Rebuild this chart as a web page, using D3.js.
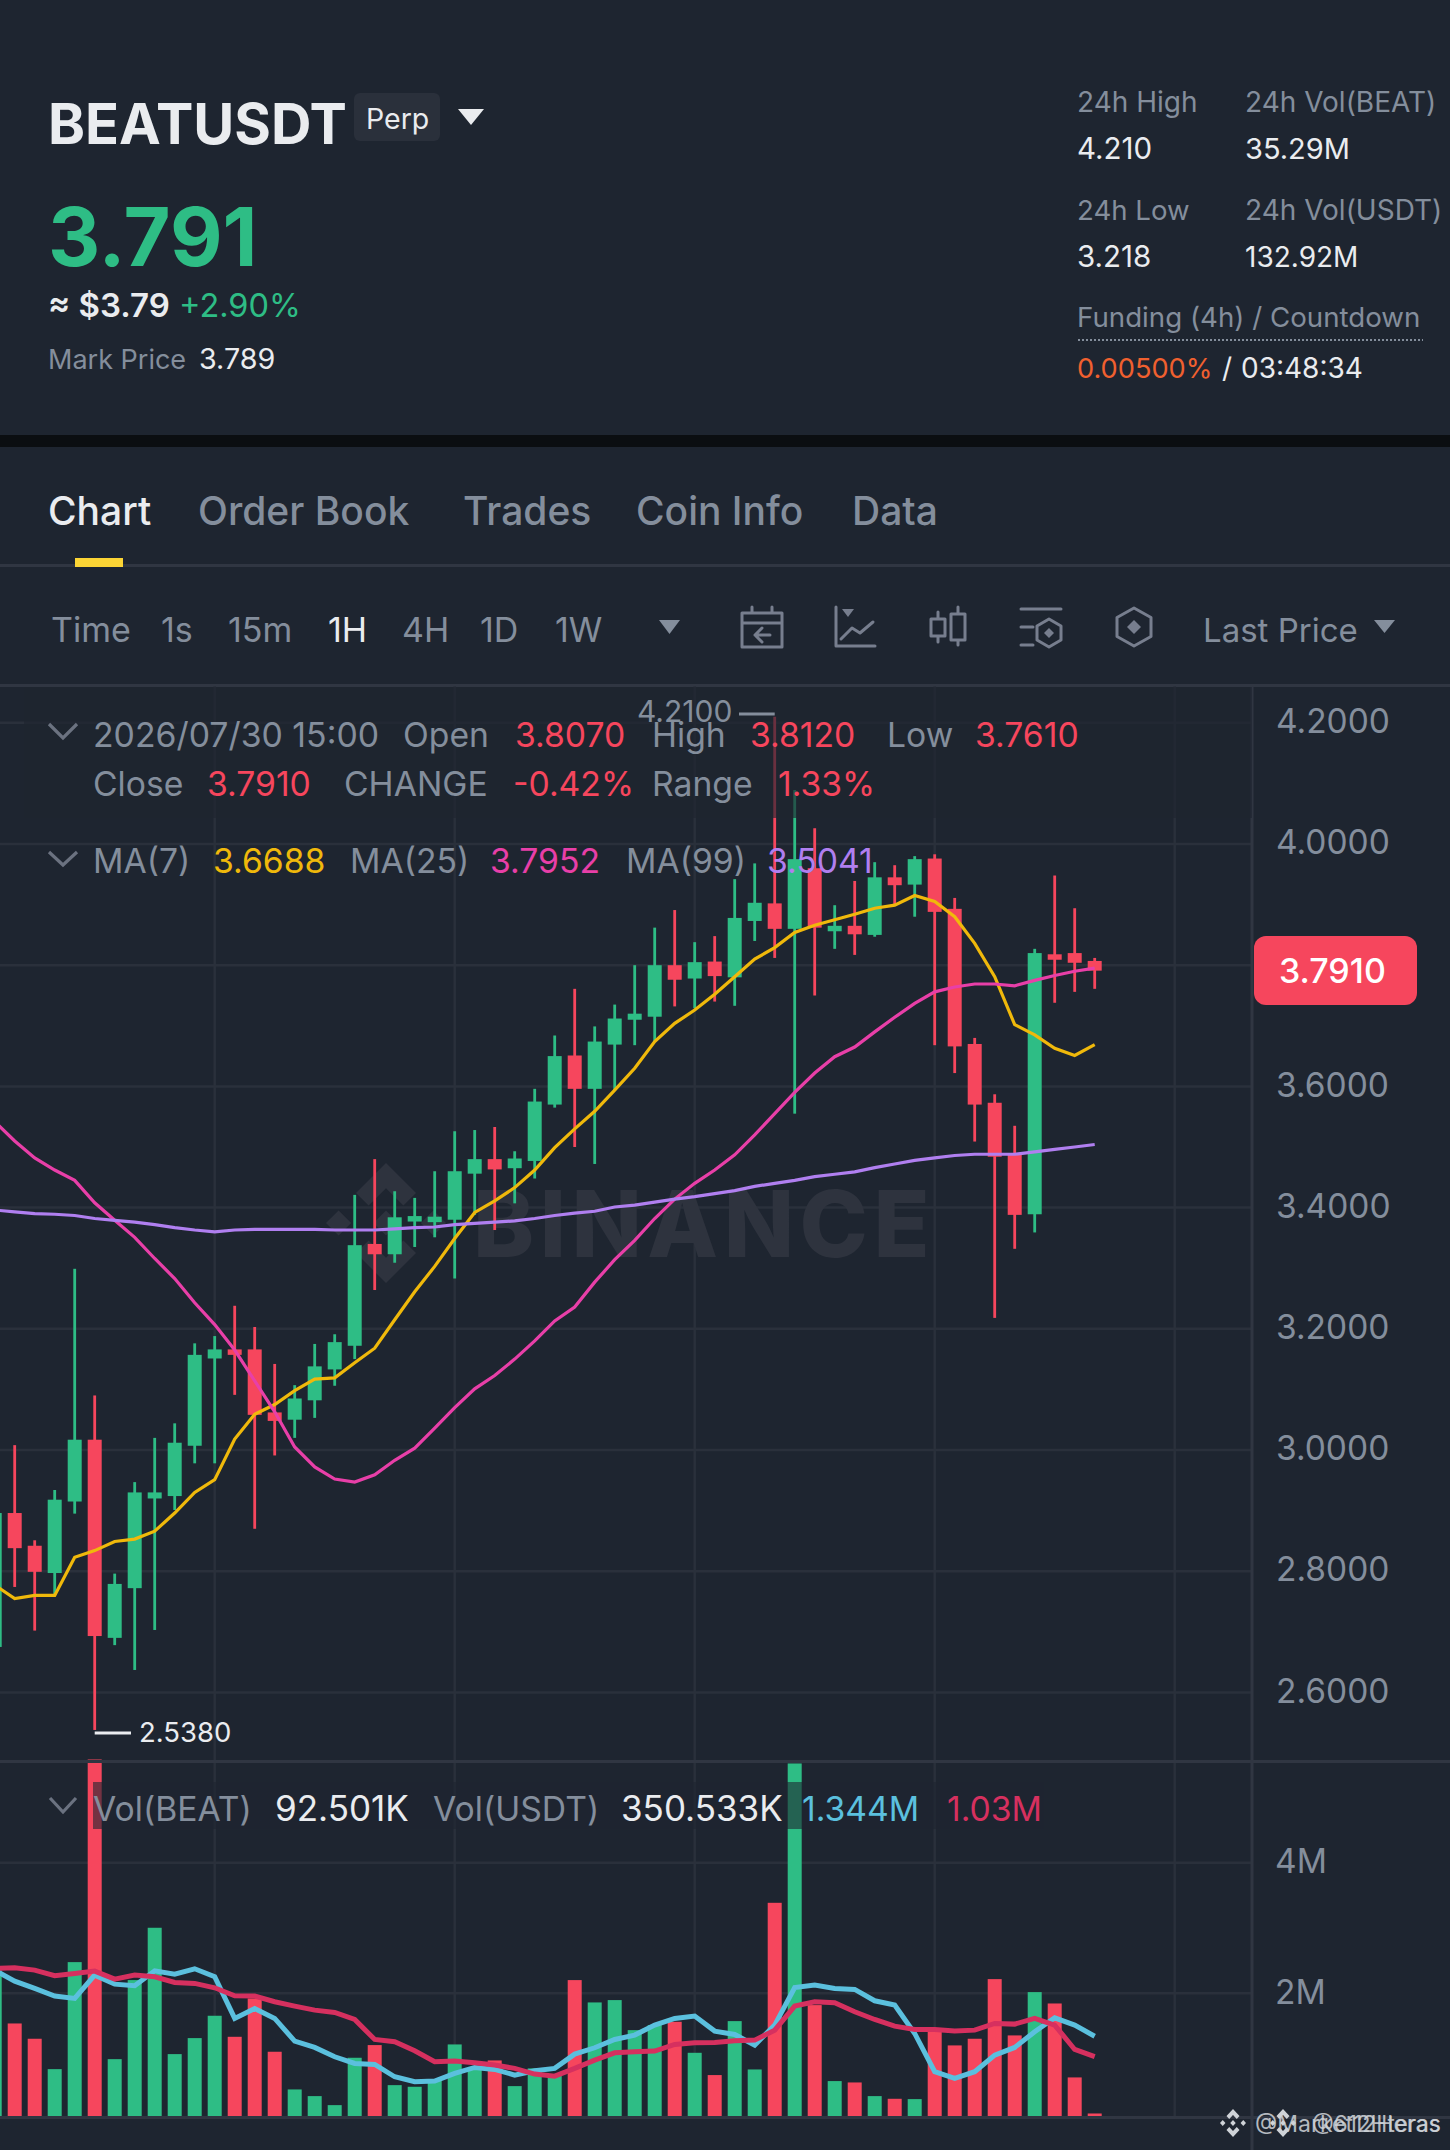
<!DOCTYPE html>
<html>
<head>
<meta charset="utf-8">
<title>BEATUSDT Perp</title>
<script src="https://cdnjs.cloudflare.com/ajax/libs/d3/7.8.5/d3.min.js"></script>
<style>
  html, body { margin: 0; padding: 0; background: #1e2530; }
  svg { display: block; }
  text { font-family: Inter, "Noto Sans", sans-serif; }
</style>
</head>
<body>
<div id="chart"></div>
<script>
// price candles, one entry per hour, left to right
const openPrices = [2.675,2.896,2.842,2.797,2.915,3.017,2.690,2.772,2.920,2.924,3.007,3.151,3.166,3.166,3.062,3.050,3.082,3.133,3.172,3.340,3.323,3.377,3.376,3.380,3.456,3.480,3.465,3.477,3.570,3.651,3.596,3.669,3.710,3.715,3.800,3.778,3.806,3.780,3.873,3.902,3.860,3.960,3.856,3.865,3.850,3.945,3.933,3.976,3.893,3.670,3.573,3.488,3.389,3.818,3.820,3.807];
const highPrices = [2.910,3.008,2.851,2.934,3.299,3.090,2.796,2.947,3.020,3.044,3.176,3.188,3.238,3.203,3.142,3.107,3.175,3.191,3.421,3.480,3.427,3.416,3.460,3.526,3.528,3.533,3.493,3.596,3.684,3.761,3.699,3.735,3.800,3.862,3.891,3.838,3.848,3.942,3.968,4.210,4.089,4.026,3.899,3.939,3.970,3.965,3.980,3.983,3.911,3.680,3.587,3.535,3.827,3.948,3.894,3.812];
const lowPrices = [2.660,2.774,2.702,2.760,2.895,2.538,2.678,2.637,2.703,2.901,2.978,2.978,3.091,2.870,2.991,3.020,3.053,3.106,3.150,3.264,3.309,3.335,3.351,3.283,3.388,3.363,3.407,3.448,3.565,3.500,3.472,3.594,3.668,3.674,3.732,3.729,3.740,3.733,3.840,3.812,3.555,3.750,3.827,3.817,3.847,3.901,3.880,3.668,3.622,3.509,3.218,3.332,3.359,3.738,3.756,3.761];
const closePrices = [2.896,2.838,2.799,2.918,3.017,2.693,2.779,2.930,2.930,3.012,3.157,3.166,3.157,3.058,3.048,3.085,3.138,3.178,3.338,3.323,3.384,3.386,3.385,3.460,3.480,3.463,3.481,3.575,3.650,3.596,3.674,3.712,3.720,3.800,3.776,3.805,3.782,3.878,3.903,3.860,3.975,3.862,3.865,3.851,3.945,3.932,3.975,3.888,3.666,3.570,3.484,3.388,3.820,3.809,3.804,3.791];

// moving averages over the candles
const ma7 = [2.777,2.755,2.760,2.760,2.823,2.834,2.849,2.853,2.866,2.896,2.930,2.951,3.018,3.059,3.075,3.098,3.117,3.119,3.144,3.168,3.215,3.261,3.303,3.349,3.392,3.411,3.433,3.462,3.499,3.530,3.559,3.594,3.630,3.674,3.704,3.726,3.752,3.781,3.810,3.829,3.854,3.866,3.875,3.884,3.894,3.899,3.915,3.905,3.880,3.836,3.781,3.702,3.685,3.663,3.651,3.6688];
const ma25 = [3.542,3.510,3.482,3.462,3.445,3.408,3.379,3.351,3.316,3.283,3.243,3.207,3.165,3.114,3.063,3.005,2.972,2.952,2.947,2.959,2.983,3.003,3.036,3.070,3.101,3.123,3.150,3.180,3.213,3.236,3.277,3.314,3.346,3.382,3.414,3.440,3.462,3.487,3.520,3.555,3.590,3.622,3.649,3.665,3.690,3.714,3.737,3.756,3.764,3.769,3.769,3.766,3.775,3.783,3.790,3.7952];
const ma99 = [3.396,3.393,3.390,3.389,3.387,3.382,3.379,3.376,3.372,3.367,3.363,3.360,3.363,3.364,3.364,3.364,3.364,3.363,3.363,3.363,3.365,3.367,3.368,3.372,3.374,3.376,3.378,3.382,3.387,3.391,3.394,3.401,3.404,3.409,3.414,3.418,3.423,3.428,3.435,3.440,3.445,3.451,3.455,3.459,3.466,3.472,3.478,3.482,3.486,3.488,3.488,3.488,3.492,3.496,3.500,3.5041];

// volume in millions, plus its two averages
const volumes = [2.355,1.539,1.305,0.840,2.478,5.580,0.993,2.203,3.004,1.070,1.315,1.657,1.335,1.922,1.106,0.529,0.427,0.289,1.014,1.208,0.595,0.570,0.672,1.218,0.851,0.973,0.580,0.851,0.750,2.203,1.861,1.897,1.437,1.514,1.565,1.090,0.749,1.575,0.835,3.386,5.519,1.820,0.657,0.636,0.427,0.386,0.381,1.437,1.203,1.305,2.218,1.356,2.019,1.845,0.713,0.161];
const volMaFast = [2.355,2.187,2.075,1.958,1.922,2.279,2.141,2.116,2.345,2.294,2.376,2.254,1.616,1.769,1.616,1.269,1.172,1.029,0.927,0.912,0.723,0.647,0.657,0.774,0.866,0.835,0.749,0.815,0.851,1.070,1.167,1.294,1.361,1.514,1.616,1.652,1.422,1.371,1.208,1.514,2.090,2.126,2.075,2.060,1.886,1.820,1.386,0.800,0.697,0.800,1.055,1.172,1.412,1.626,1.514,1.344];
const volMaSlow = [2.381,2.391,2.356,2.269,2.305,2.340,2.218,2.279,2.254,2.167,2.152,2.085,1.963,1.958,1.871,1.805,1.743,1.708,1.600,1.294,1.259,1.121,0.953,0.963,0.937,0.902,0.851,0.764,0.733,0.851,0.978,1.090,1.106,1.116,1.218,1.243,1.248,1.274,1.284,1.437,1.805,1.871,1.855,1.718,1.600,1.498,1.447,1.447,1.422,1.437,1.539,1.529,1.616,1.514,1.141,1.030];

const priceGridTicks = [2.6,2.8,3.0,3.2,3.4,3.6,3.8,4.0,4.2];
const priceLabelTicks = [2.6,2.8,3.0,3.2,3.4,3.6,4.0,4.2];
const volTicks = [2,4];
const timeGridIndex = [11,23,35,47,59];

const tabs = ['Chart','Order Book','Trades','Coin Info','Data'];
const intervals = ['Time','1s','15m','1H','4H','1D','1W'];

const GREEN = '#2ebd85', RED = '#f6465d', BG = '#1e2530', GREY = '#848e9c', WHITE = '#eaecef';
const GRID = '#2a303b', RULE = '#303642';
const W = 1450, H = 2150, axisX = 1252;
const indexes = d3.range(closePrices.length);

const svg = d3.select('#chart').append('svg').attr('width', W).attr('height', H);
svg.append('rect').attr('width', W).attr('height', H).attr('fill', BG);

function label(x, y, str, size, color, weight) {
    return svg.append('text').attr('x', x).attr('y', y)
        .attr('font-size', size).attr('fill', color)
        .attr('font-weight', weight || 400).text(str);
}
function tri(x0, x1, y0, y1, color) {
    svg.append('path').attr('d', `M${x0},${y0}L${x1},${y0}L${(x0 + x1) / 2},${y1}Z`).attr('fill', color);
}
function chevron(x0, x1, y0, y1) {
    svg.append('path').attr('d', `M${x0},${y0}L${(x0 + x1) / 2},${y1}L${x1},${y0}`)
        .attr('fill', 'none').attr('stroke', '#6b7280').attr('stroke-width', 3.2);
}

// ---- header ----
label(48, 144, 'BEATUSDT', 56, WHITE, 700);
svg.append('rect').attr('x', 354).attr('y', 93).attr('width', 86).attr('height', 48).attr('rx', 6).attr('fill', '#2a303b');
label(366, 129, 'Perp', 28.5, WHITE);
tri(458, 484, 109, 125, WHITE);
label(48, 266, '3.791', 81, GREEN, 700);
label(48, 317, '≈ $3.79', 33, WHITE, 600);
label(179, 317, '+2.90%', 32.5, GREEN);
label(48, 369, 'Mark Price', 27, GREY);
label(199, 369, '3.789', 28.7, WHITE);

label(1077, 112, '24h High', 28, GREY);
label(1245, 112, '24h Vol(BEAT)', 28, GREY);
label(1077, 159, '4.210', 29.5, WHITE);
label(1245, 159, '35.29M', 29, WHITE);
label(1077, 220, '24h Low', 27.6, GREY);
label(1245, 220, '24h Vol(USDT)', 28, GREY);
label(1077, 267, '3.218', 29.5, WHITE);
label(1245, 267, '132.92M', 28, WHITE);
label(1077, 327, 'Funding (4h) / Countdown', 27.7, GREY);
svg.append('line').attr('x1', 1078).attr('x2', 1423).attr('y1', 340).attr('y2', 340)
    .attr('stroke', GREY).attr('stroke-width', 2).attr('stroke-dasharray', '2 2');
label(1077, 378, '0.00500%', 27.2, '#f0602f');
label(1222, 378, '/', 28, WHITE);
label(1241, 378, '03:48:34', 28, WHITE);

svg.append('rect').attr('y', 435).attr('width', W).attr('height', 12).attr('fill', '#0b0e11');

// ---- tabs and toolbar ----
const tabX = [48, 198, 463, 636, 852];
tabs.forEach((t, i) => label(tabX[i], 525, t, 39, i === 0 ? WHITE : GREY, 500));
svg.append('rect').attr('y', 564).attr('width', W).attr('height', 3).attr('fill', RULE);
svg.append('rect').attr('x', 75).attr('y', 558).attr('width', 48).attr('height', 9).attr('fill', '#fcd535');

const intervalX = [51, 161, 228, 328, 402, 480, 555];
intervals.forEach((t, i) => label(intervalX[i], 642, t, 34, t === '1H' ? WHITE : GREY));
tri(659, 680, 620, 634, GREY);
label(1203, 642, 'Last Price', 33, GREY);
tri(1374, 1395, 620, 633, GREY);
svg.append('rect').attr('y', 684).attr('width', W).attr('height', 3).attr('fill', RULE);

function icon(d, fill) {
    svg.append('path').attr('d', d).attr('fill', fill ? '#777e8e' : 'none')
        .attr('stroke', '#777e8e').attr('stroke-width', fill ? 0 : 3)
        .attr('stroke-linejoin', 'round').attr('stroke-linecap', 'round');
}
function hex(cx, cy, rw, rh) {
    return `M${cx},${cy - rh}L${cx + rw},${cy - rh / 2}L${cx + rw},${cy + rh / 2}L${cx},${cy + rh}L${cx - rw},${cy + rh / 2}L${cx - rw},${cy - rh / 2}Z`;
}
function diamond(cx, cy, r) {
    return `M${cx},${cy - r}L${cx + r},${cy}L${cx},${cy + r}L${cx - r},${cy}Z`;
}
icon('M742,613H782V647H742ZM742,623H782M752,607V613M772,607V613M770,635H755M762,628L755,635L762,642');
icon('M836,607V646H875M841,639L852,628L860,633L873,622');
icon('M842,609H854L848,617Z', true);
icon('M931,619H945V636H931ZM938,612V619M938,636V642M951,614H965V640H951ZM958,607V614M958,640V645');
icon('M1021,609H1061M1021,627H1033M1021,645H1033');
icon(hex(1049, 633, 12, 14));
icon(diamond(1049, 633, 5), true);
icon(hex(1134, 627, 17, 19));
icon(diamond(1134, 627, 7), true);

// ---- scales ----
const x = d3.scaleLinear().domain([0, 55]).range([-5.3, 1094.7]);
const y = d3.scaleLinear().domain([2.6, 4.2]).range([1692.4, 722.8]);
const yVol = d3.scaleLinear().domain([0, 4]).range([2124, 1862.7]);
const volBase = 2117;

// ---- grid ----
const gridG = svg.append('g').attr('stroke', GRID).attr('stroke-width', 2.5);
gridG.selectAll('.v').data(timeGridIndex).enter().append('line')
    .attr('x1', d => x(d)).attr('x2', d => x(d)).attr('y1', 686).attr('y2', volBase);
gridG.selectAll('.h').data(priceGridTicks).enter().append('line')
    .attr('x1', 0).attr('x2', axisX).attr('y1', d => y(d)).attr('y2', d => y(d));
gridG.selectAll('.hv').data(volTicks).enter().append('line')
    .attr('x1', 0).attr('x2', axisX).attr('y1', d => yVol(d)).attr('y2', d => yVol(d));

// ---- watermark ----
function binanceLogo(g, cx, cy, rx, ry, fill) {
    const sx = v => cx + v * rx, sy = v => cy + v * ry;
    const poly = pts => g.append('polygon')
        .attr('points', pts.map(p => `${sx(p[0])},${sy(p[1])}`).join(' ')).attr('fill', fill);
    poly([[-0.5,-0.5],[0,-1],[0.5,-0.5],[0.29,-0.29],[0,-0.58],[-0.29,-0.29]]);
    poly([[-0.5,0.5],[0,1],[0.5,0.5],[0.29,0.29],[0,0.58],[-0.29,0.29]]);
    [-0.79, 0, 0.79].forEach(c => poly([[c - 0.21,0],[c,-0.21],[c + 0.21,0],[c,0.21]]));
}
binanceLogo(svg.append('g'), 386, 1223, 60, 60, '#2e333e');
label(473, 1257, 'BINANCE', 92, '#2e333e', 800).attr('letter-spacing', 5.5);

// ---- candles ----
const candles = svg.append('g').selectAll('g').data(indexes).enter().append('g')
    .attr('fill', i => closePrices[i] >= openPrices[i] ? GREEN : RED);
candles.append('rect')
    .attr('x', i => x(i) - 1.4).attr('width', 2.8)
    .attr('y', i => y(highPrices[i]))
    .attr('height', i => y(lowPrices[i]) - y(highPrices[i]));
candles.append('rect')
    .attr('x', i => x(i) - 7).attr('width', 14)
    .attr('y', i => y(Math.max(openPrices[i], closePrices[i])))
    .attr('height', i => Math.max(2, Math.abs(y(openPrices[i]) - y(closePrices[i]))));

// moving average lines
const priceLine = d3.line().x((d, i) => x(i)).y(d => y(d));
[[ma7, '#f0b90b'], [ma25, '#e83fa8'], [ma99, '#b07ff0']].forEach(([series, color]) => {
    svg.append('path').attr('d', priceLine(series)).attr('fill', 'none')
        .attr('stroke', color).attr('stroke-width', 3.2);
});

// low marker
svg.append('line').attr('x1', x(5)).attr('x2', 131).attr('y1', 1733).attr('y2', 1733).attr('stroke', WHITE).attr('stroke-width', 3);
label(139, 1742, '2.5380', 27.5, WHITE);

// ---- volume ----
svg.append('g').selectAll('rect').data(indexes).enter().append('rect')
    .attr('x', i => x(i) - 7).attr('width', 14)
    .attr('y', i => yVol(volumes[i]))
    .attr('height', i => volBase - yVol(volumes[i]))
    .attr('fill', i => closePrices[i] >= openPrices[i] ? GREEN : RED);
const volLine = d3.line().x((d, i) => x(i)).y(d => yVol(d));
[[volMaFast, '#5bc0de'], [volMaSlow, '#d6305f']].forEach(([series, color]) => {
    svg.append('path').attr('d', volLine(series)).attr('fill', 'none')
        .attr('stroke', color).attr('stroke-width', 5);
});

// ---- pane rules and axes ----
svg.append('rect').attr('y', 1760).attr('width', W).attr('height', 3).attr('fill', RULE);
svg.append('rect').attr('y', 2116).attr('width', W).attr('height', 3).attr('fill', RULE);
svg.append('rect').attr('x', axisX - 1.5).attr('y', 686).attr('width', 3).attr('height', H - 686).attr('fill', RULE);

const priceAxis = svg.append('g').attr('transform', `translate(${axisX},-1)`)
    .call(d3.axisRight(y).tickValues(priceLabelTicks).tickSize(0).tickPadding(24).tickFormat(d3.format('.4f')));
const volAxis = svg.append('g').attr('transform', `translate(${axisX},-1)`)
    .call(d3.axisRight(yVol).tickValues(volTicks).tickSize(0).tickPadding(23).tickFormat(d => d + 'M'));
[priceAxis, volAxis].forEach(a => {
    a.select('.domain').remove();
    a.selectAll('text').attr('font-size', 33.5).attr('fill', GREY)
        .style('font-family', 'Inter, "Noto Sans", sans-serif');
});

svg.append('rect').attr('x', 1254).attr('y', 936).attr('width', 163).attr('height', 69).attr('rx', 12).attr('fill', RED);
label(1279, 983, '3.7910', 34, '#ffffff', 500);

// ---- legends, over a translucent strip ----
svg.append('rect').attr('x', 24).attr('y', 687).attr('width', axisX - 24).attr('height', 131).attr('fill', BG).attr('opacity', 0.65);
svg.append('rect').attr('x', 93).attr('y', 1782).attr('width', 951).attr('height', 47).attr('fill', BG).attr('opacity', 0.6);

// high marker sits above the strip
label(637, 722, '4.2100', 30, GREY);
svg.append('line').attr('x1', 739).attr('x2', x(39)).attr('y1', 714).attr('y2', 714).attr('stroke', GREY).attr('stroke-width', 3);

const LEG = 33.7;
chevron(49, 77, 724, 738);
label(93, 747, '2026/07/30 15:00', 33.8, GREY);
label(403, 747, 'Open', LEG, GREY);
label(515, 747, '3.8070', LEG, RED);
label(652, 747, 'High', LEG, GREY);
label(750, 747, '3.8120', LEG, RED);
label(887, 747, 'Low', LEG, GREY);
label(975, 747, '3.7610', LEG, RED);
label(93, 796, 'Close', LEG, GREY);
label(207, 796, '3.7910', LEG, RED);
label(344, 796, 'CHANGE', LEG, GREY);
label(513, 796, '-0.42%', LEG, RED);
label(652, 796, 'Range', LEG, GREY);
label(778, 796, '1.33%', LEG, RED);

chevron(49, 77, 852, 865);
label(93, 873, 'MA(7)', LEG, GREY);
label(213, 873, '3.6688', LEG, '#f0b90b');
label(350, 873, 'MA(25)', LEG, GREY);
label(490, 873, '3.7952', LEG, '#e83fa8');
label(626, 873, 'MA(99)', LEG, GREY);
label(767, 873, '3.5041', LEG, '#b07ff0');

chevron(50, 76, 1798, 1812);
label(93, 1821, 'Vol(BEAT)', LEG, GREY);
label(275, 1821, '92.501K', 35, WHITE);
label(433, 1821, 'Vol(USDT)', LEG, GREY);
label(621, 1821, '350.533K', 35, WHITE);
label(802, 1821, '1.344M', LEG, '#5bc0de');
label(947, 1821, '1.03M', LEG, '#d6305f');

// ---- overlapping share stamps, bottom right ----
binanceLogo(svg.append('g'), 1233, 2123, 13, 14, '#cfd3d8');
binanceLogo(svg.append('g'), 1283, 2123, 13, 14, '#cfd3d8');
label(1255, 2132, '@Market12Heras', 23, '#cfd3d8').attr('opacity', 0.85);
label(1312, 2132, '@612Hteras', 22.5, '#cfd3d8').attr('opacity', 0.85);
</script>
</body>
</html>
